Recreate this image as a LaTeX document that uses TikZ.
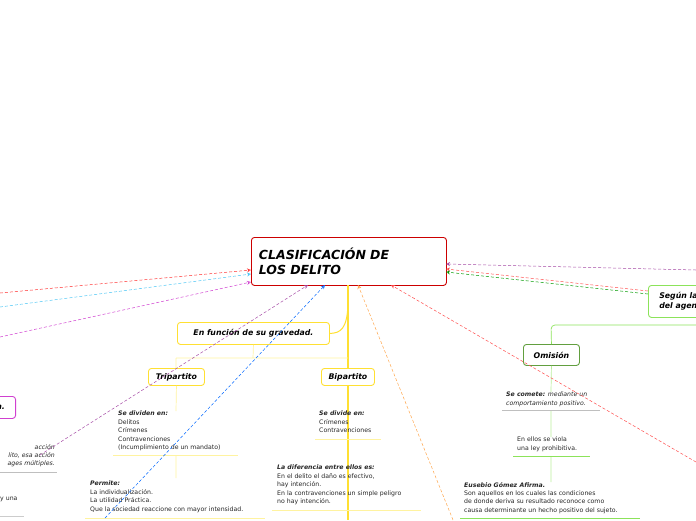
\documentclass[tikz,border=0pt]{standalone}
\usepackage{fontspec}
\setmainfont{DejaVu Sans}
\usetikzlibrary{arrows.meta}
\definecolor{yel}{HTML}{FFE033}
\definecolor{lyel}{HTML}{FFF3A0}
\definecolor{grn}{HTML}{8CE35A}
\definecolor{mag}{HTML}{D040D0}
\begin{document}
\begin{tikzpicture}[x=1pt,y=-1pt,
  box/.style={draw,line width=0.9pt,rounded corners=3pt,fill=white,inner sep=0pt,font=\fontsize{7.8}{9.5}\selectfont\bfseries\itshape},
  txt/.style={anchor=north west,inner sep=0pt,align=left,font=\fontsize{6.2}{8.4}\selectfont,text=black!85},
  con/.style={densely dashed,-{Stealth[open,length=4pt,width=4pt]},line width=0.5pt}]
\useasboundingbox (0,0) rectangle (696,520);
% main
\node[box,draw=red!80!black,minimum width=195,minimum height=48,anchor=north west,font=\fontsize{12.5}{14.5}\selectfont\bfseries\itshape,align=left,text width=180] (main) at (251,237) {CLASIFICACIÓN DE\\LOS DELITO};
\draw[yel,line width=2.5pt] (348,285) -- (348,520);
\node[box,draw=yel,minimum width=152,minimum height=22,anchor=north west] (grav) at (177,322) {En función de su gravedad.};
\draw[yel,line width=1pt] (348,300) .. controls (348,330) and (340,333) .. (grav.east);
\draw[lyel,line width=0.7pt] (grav.south) -- (253,358) (176,358) -- (348,358) (176,358) -- (176,368);
\node[box,draw=yel,minimum width=56,minimum height=17,anchor=north west] (tri) at (148,368) {Tripartito};
\node[box,draw=yel,minimum width=53,minimum height=17,anchor=north west] (bi) at (321,368) {Bipartito};
\draw[lyel,line width=0.7pt] (tri.south) -- (176,411) (176,455) -- (176,478);
\node[txt] (t1) at (118,411) {\textbf{\textit{Se dividen en:}}\\Delitos\\Crímenes\\Contravenciones\\(Incumplimiento de un mandato)};
\draw[lyel,line width=0.8pt] (113,455) -- (238,455);
\node[txt] (t2) at (90,481) {\textbf{\textit{Permite:}}\\La individualización.\\La utilidad Práctica.\\Que la sociedad reaccione con mayor intensidad.};
\draw[lyel,line width=0.8pt] (85,518) -- (265,518);
\node[txt] (b1) at (319,411) {\textbf{\textit{Se divide en:}}\\Crímenes\\Contravenciones};
\draw[lyel,line width=0.8pt] (315,439) -- (381,439);
\node[txt] (b2) at (277,465) {\textbf{\textit{La diferencia entre ellos es:}}\\En el delito el daño es efectivo,\\hay intención.\\En la contravenciones un simple peligro\\no hay intención.};
\draw[lyel,line width=0.8pt] (272,510) -- (421,510);
% right
\node[box,draw=grn,minimum width=60,minimum height=32,anchor=north west,align=left] (seg) at (648,285) {Según la\\del agen};
\node[box,draw=grn!70!black,minimum width=56,minimum height=21,anchor=north west] (omi) at (523,344) {Omisión};
\draw[grn,line width=0.7pt,rounded corners=4pt] (696,325) -- (551,325) -- (omi.north);
\draw[grn!60,line width=0.7pt] (omi.south) -- (551,392) (551,410) -- (551,437) (551,456) -- (551,482);
\node[txt] (r1) at (506,392) {\textbf{\textit{Se comete:}} \textit{mediante un}\\\textit{comportamiento positivo.}};
\draw[black!25,line width=0.8pt] (502,410) -- (600,410);
\node[txt] (r2) at (517,437) {En ellos se viola\\una ley prohibitiva.};
\draw[grn,line width=0.8pt] (513,456) -- (590,456);
\node[txt] (r3) at (464,482) {\textbf{\textit{Eusebio Gómez Afirma.}}\\Son aquellos en los cuales las condiciones\\de donde deriva su resultado reconoce como\\causa determinante un hecho positivo del sujeto.};
\draw[grn,line width=0.8pt] (460,518) -- (640,518);
% left
\node[box,draw=mag,minimum width=30,minimum height=22,anchor=north east] (lm) at (16,396) {n.};
\node[txt,anchor=north east,align=right,font=\fontsize{6.2}{8.4}\selectfont\itshape] (l1) at (55,444) {acción\\lito, esa acción\\ages múltiples.};
\draw[black!25,line width=0.8pt] (0,472) -- (57,472);
\node[txt] (l2) at (0,497) {y una};
\draw[black!20,line width=0.8pt] (0,516) -- (24,516);
% dashed connectors
\coordinate (c1) at (0,293); \coordinate (c2) at (0,307); \coordinate (c3) at (0,337);
\coordinate (c4) at (40,455); \coordinate (c5) at (105,518); \coordinate (c6) at (453,520);
\coordinate (c7) at (696,462); \coordinate (c8) at (696,270);
\draw[con,red!80] (c1) -- (251,270);
\draw[con,cyan!70] (c2) -- (251,274);
\draw[con,mag] (c3) -- (251,282);
\draw[con,violet!70] (c4) -- (308,285);
\draw[con,blue!60!cyan] (c5) -- (325,285);
\draw[con,orange!70] (c6) -- (358,285);
\draw[con,red!70] (c7) -- (391,285);
\draw[con,violet!70] (c8) -- (446,264);
\draw[con,red!70] (648,291) -- (446,269);
\draw[con,green!60!black] (648,294) -- (446,272);
\end{tikzpicture}
\end{document}
